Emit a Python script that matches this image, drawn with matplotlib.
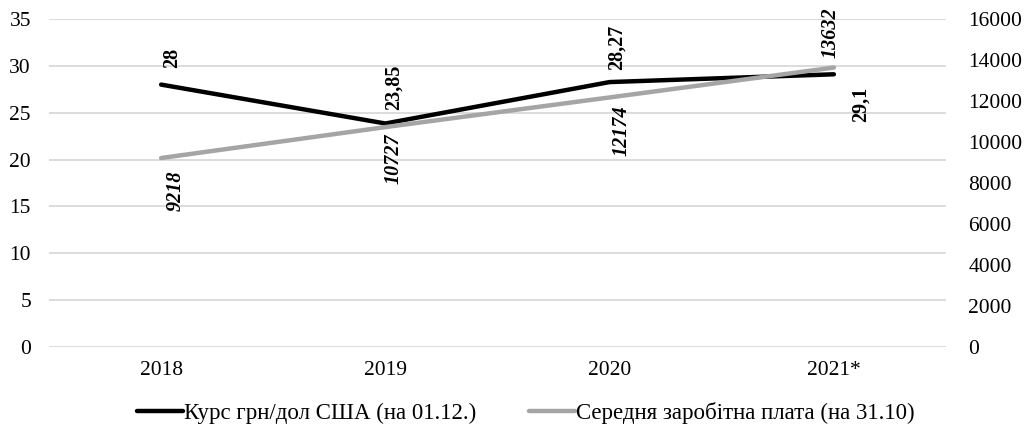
import matplotlib
matplotlib.use('Agg')
from matplotlib import pyplot as plt

plt.rcParams['font.family'] = ['Liberation Serif', 'DejaVu Serif']

years = ['2018', '2019', '2020', '2021*']
rate = [28, 23.85, 28.27, 29.1]
salary = [9218, 10727, 12174, 13632]
rate_labels = ['28', '23,85', '28,27', '29,1']
salary_labels = ['9218', '10727', '12174', '13632']

# label offsets in pixels (dx, dy) and vertical alignment
rate_offsets = [(11, 17, 'bottom'), (8, 13, 'bottom'), (7, 12, 'bottom'), (27, -13, 'top')]
salary_offsets = [(15, -12, 'top'), (8, -6, 'top'), (12, -8, 'top'), (-3, 10, 'bottom')]

fig = plt.figure(figsize=(10.27, 4.30), dpi=100)
ax = fig.add_axes([49 / 1027, 83 / 430, 897 / 1027, 328 / 430])
ax2 = ax.twinx()

x = list(range(len(years)))
ax.plot(x, rate, color='black', lw=3.2, solid_capstyle='round',
        label='Курс грн/дол США (на 01.12.)')
ax2.plot(x, salary, color='#a5a5a5', lw=3.2, solid_capstyle='round',
         label='Середня заробітна плата (на 31.10)')

ax.set_xlim(-0.5, 3.5)
ax.set_ylim(0, 35)
ax2.set_ylim(0, 16000)
ax.set_yticks(range(0, 36, 5))
ax2.set_yticks(range(0, 16001, 2000))
ax.set_xticks(x)
ax.set_xticklabels(years)

ax.grid(axis='y', color='#d9d9d9', lw=1.3)
ax.set_axisbelow(True)
for a in (ax, ax2):
    for s in a.spines.values():
        s.set_visible(False)
ax.tick_params(axis='both', length=0, labelsize=15.5)
ax.tick_params(axis='y', pad=13)
ax.tick_params(axis='x', pad=10)
ax2.tick_params(axis='y', length=0, labelsize=15.5, pad=16)

for i, (v, t) in enumerate(zip(rate, rate_labels)):
    dx, dy, va = rate_offsets[i]
    ax.annotate(t, (x[i], v), xytext=(dx, dy), textcoords='offset pixels',
                rotation=90, ha='center', va=va, fontsize=14.5,
                fontweight='bold')
for i, (v, t) in enumerate(zip(salary, salary_labels)):
    dx, dy, va = salary_offsets[i]
    ax2.annotate(t, (x[i], v), xytext=(dx, dy), textcoords='offset pixels',
                 rotation=90, ha='center', va=va, fontsize=14.5,
                 fontweight='bold', fontstyle='italic')

h1, l1 = ax.get_legend_handles_labels()
h2, l2 = ax2.get_legend_handles_labels()
fig.legend(h1 + h2, l1 + l2, loc='center', bbox_to_anchor=(0.512, 0.04),
           ncol=2, frameon=False, fontsize=16.5, handlelength=2.0,
           handletextpad=0.05, columnspacing=2.3)

fig.savefig('out.png', dpi=100)
